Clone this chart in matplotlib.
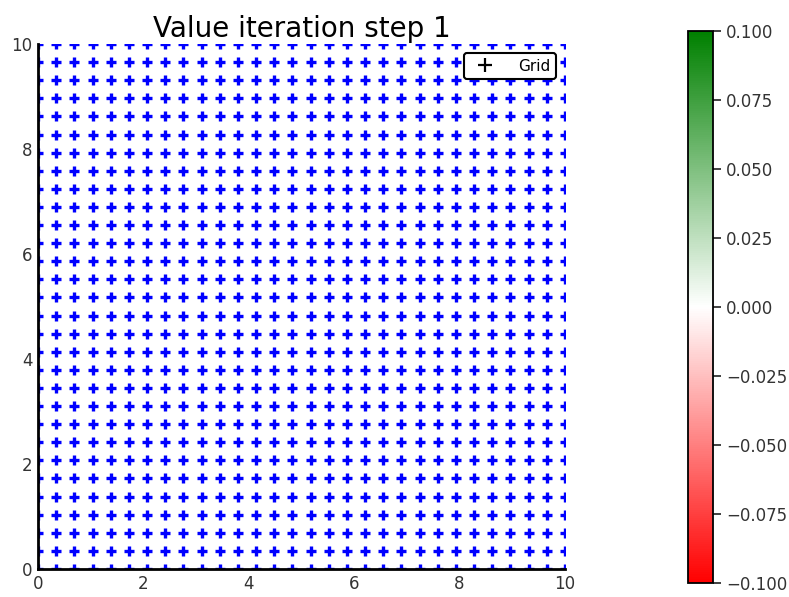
import matplotlib
matplotlib.use("Agg")
import matplotlib.pyplot as plt
import numpy as np
from matplotlib.colors import LinearSegmentedColormap, Normalize
from matplotlib.cm import ScalarMappable
from matplotlib.lines import Line2D

# grid of states
n_points = 30
x_range = [0, 10]
y_range = [0, 10]
value_min, value_max = -0.1, 0.1
cbar_ticks = [-0.100, -0.075, -0.050, -0.025, 0.000, 0.025, 0.050, 0.075, 0.100]
axis_ticks = [0, 2, 4, 6, 8, 10]

xs = np.linspace(x_range[0], x_range[1], n_points)
ys = np.linspace(y_range[0], y_range[1], n_points)
X, Y = np.meshgrid(xs, ys)

fig = plt.figure(figsize=(7.89, 5.97), dpi=100)
ax = fig.add_axes([38 / 789, 1 - 569 / 597, 527 / 789, 525 / 597])
cax = fig.add_axes([688 / 789, 1 - 583 / 597, 25 / 789, 552 / 597])

# scatter clips the markers on the border like the original
ax.scatter(X.ravel(), Y.ravel(), marker="+", color="blue", s=55, linewidths=2.4)
ax.set_xlim(x_range)
ax.set_ylim(y_range)
ax.set_xticks(axis_ticks)
ax.set_yticks(axis_ticks)
ax.tick_params(length=0, labelsize=12, colors="#333333", pad=4)
ax.spines["top"].set_visible(False)
ax.spines["right"].set_visible(False)
ax.spines["left"].set_linewidth(2)
ax.spines["bottom"].set_linewidth(2)
ax.set_title("Value iteration step 1", fontsize=20, pad=5)

handle = Line2D([], [], marker="+", color="black", linestyle="none",
                markersize=10, markeredgewidth=1.6)
leg = ax.legend([handle], ["Grid"], loc="upper right", fontsize=11,
                fancybox=True, framealpha=1, edgecolor="black",
                borderaxespad=0.6, handletextpad=1.2, borderpad=0.35)
leg.get_frame().set_linewidth(1.5)

cmap = LinearSegmentedColormap.from_list("rwg", ["red", "white", "green"])
sm = ScalarMappable(norm=Normalize(value_min, value_max), cmap=cmap)
cb = fig.colorbar(sm, cax=cax, ticks=cbar_ticks)
cb.ax.set_yticklabels([f"{t:.3f}".replace("-", "\u2212") for t in cbar_ticks])
cb.ax.tick_params(labelsize=12, length=6, width=1.3, colors="#333333")
cb.outline.set_linewidth(1.3)

fig.savefig("out.png", dpi=100)
